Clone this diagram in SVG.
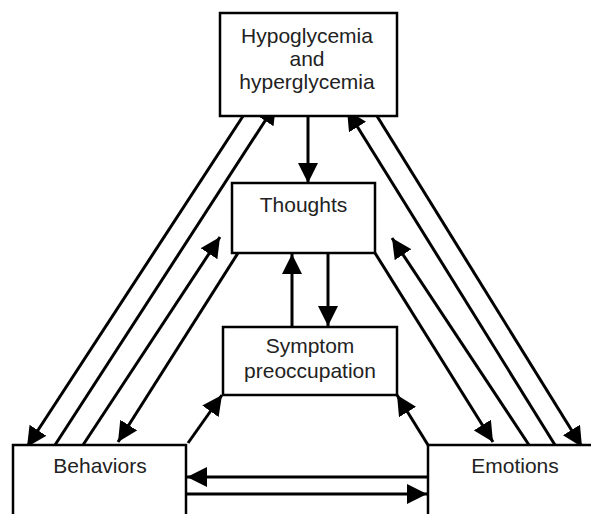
<svg xmlns="http://www.w3.org/2000/svg" width="591" height="514" viewBox="0 0 591 514">
<defs>
<marker id="ah" markerUnits="userSpaceOnUse" markerWidth="20" markerHeight="20" refX="20" refY="10" orient="auto">
<path d="M0,0 L20,10 L0,20 z" fill="#000"/>
</marker>
<style>
.box{fill:#fff;stroke:#000;stroke-width:2.5}
.lbl{font-family:"Liberation Sans",Arial,sans-serif;font-size:21px;fill:#222;text-anchor:middle}
.c{stroke:#000;stroke-width:3;fill:none}
</style>
</defs>
<rect width="591" height="514" fill="#fff"/>
<g id="connectors">
<line class="c" x1="308" y1="116" x2="308" y2="183" marker-end="url(#ah)"/>
<line class="c" x1="292" y1="332" x2="292" y2="254" marker-end="url(#ah)"/>
<line class="c" x1="328" y1="253" x2="328" y2="326" marker-end="url(#ah)"/>
<line class="c" x1="247" y1="110" x2="27" y2="447" marker-end="url(#ah)"/>
<line class="c" x1="55" y1="445" x2="276" y2="104" marker-end="url(#ah)"/>
<line class="c" x1="83" y1="445" x2="220" y2="237" marker-end="url(#ah)"/>
<line class="c" x1="238" y1="253" x2="118" y2="442" marker-end="url(#ah)"/>
<line class="c" x1="188" y1="443" x2="222" y2="395" marker-end="url(#ah)"/>
<line class="c" x1="372" y1="108" x2="582" y2="447" marker-end="url(#ah)"/>
<line class="c" x1="555" y1="445" x2="347" y2="110" marker-end="url(#ah)"/>
<line class="c" x1="529" y1="445" x2="392" y2="238" marker-end="url(#ah)"/>
<line class="c" x1="375" y1="253" x2="493" y2="442" marker-end="url(#ah)"/>
<line class="c" x1="428" y1="445" x2="397" y2="395" marker-end="url(#ah)"/>
<line class="c" x1="428" y1="477" x2="187" y2="477" marker-end="url(#ah)"/>
<line class="c" x1="186" y1="494" x2="427" y2="494" marker-end="url(#ah)"/>
</g>
<g id="node-hypo">
<rect class="box" x="220" y="13" width="177" height="103"/>
<text class="lbl" x="307" y="43">Hypoglycemia</text>
<text class="lbl" x="307" y="66">and</text>
<text class="lbl" x="307" y="89">hyperglycemia</text>
</g>
<g id="node-thoughts">
<rect class="box" x="232" y="183" width="143" height="70"/>
<text class="lbl" x="303.5" y="212">Thoughts</text>
</g>
<g id="node-symptom">
<rect class="box" x="223" y="327" width="174" height="68"/>
<text class="lbl" x="310" y="353">Symptom</text>
<text class="lbl" x="310" y="378">preoccupation</text>
</g>
<g id="node-behaviors">
<rect class="box" x="13" y="445" width="173" height="75"/>
<text class="lbl" x="100" y="473">Behaviors</text>
</g>
<g id="node-emotions">
<rect class="box" x="428" y="445" width="175" height="75"/>
<text class="lbl" x="515" y="473">Emotions</text>
</g>
</svg>
